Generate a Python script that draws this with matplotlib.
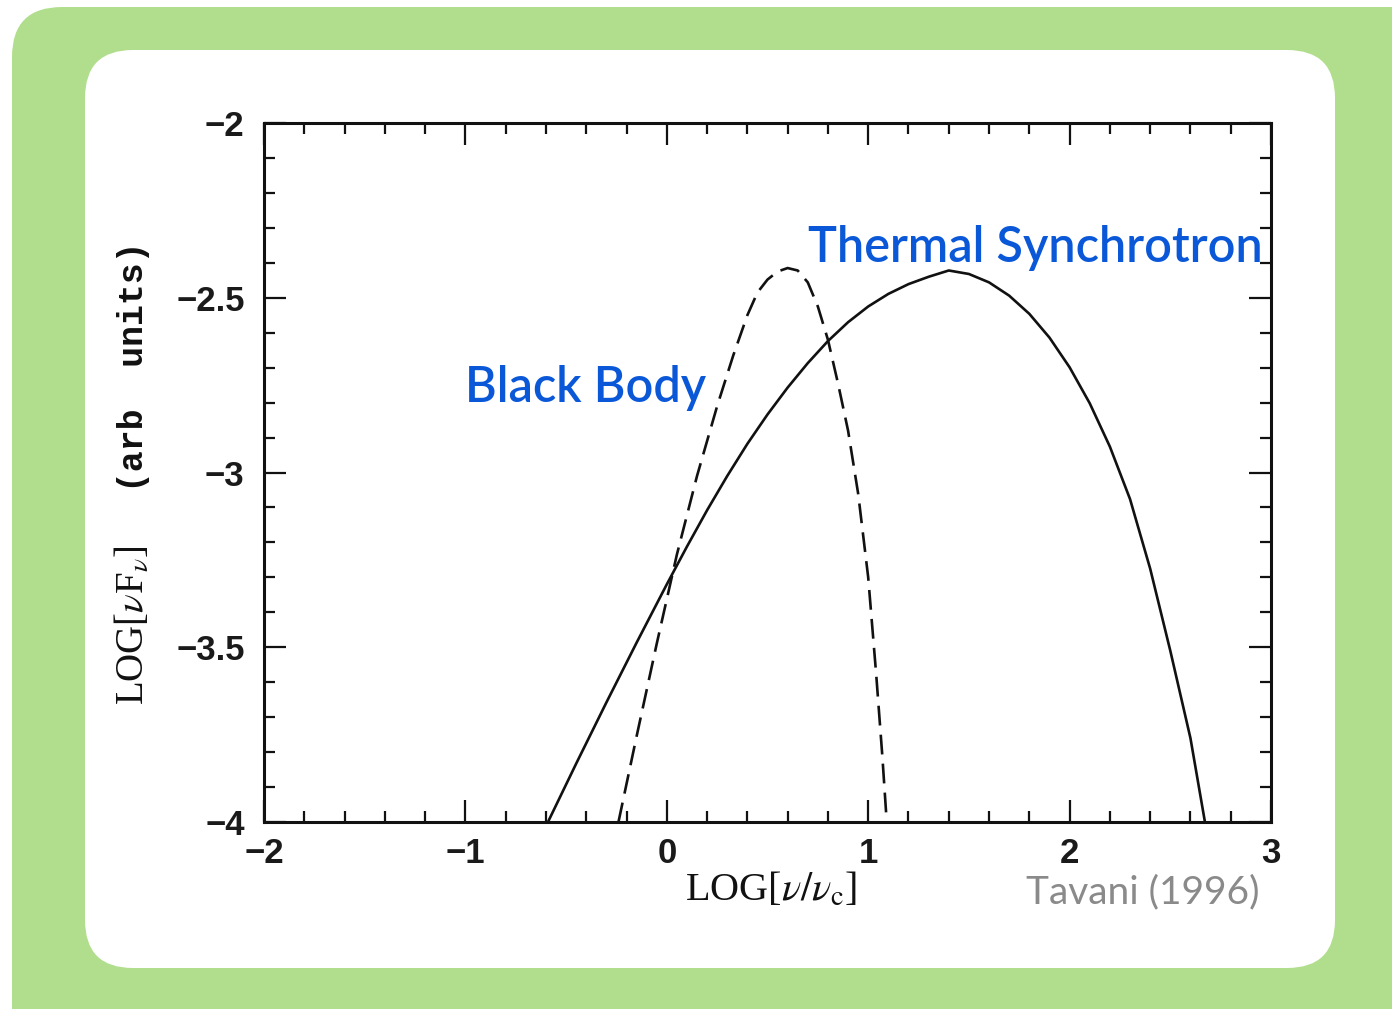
import matplotlib.pyplot as plt
from matplotlib.patches import FancyBboxPatch
from matplotlib.ticker import MultipleLocator

# values (Tavani 1996)
synch_x = [-0.59, -0.45, -0.30, -0.15, 0.0, 0.10, 0.20, 0.30, 0.40, 0.50, 0.60, 0.70,
           0.80, 0.90, 1.00, 1.10, 1.20, 1.30, 1.40, 1.50, 1.60, 1.70, 1.80, 1.90,
           2.00, 2.10, 2.20, 2.30, 2.40, 2.50, 2.60, 2.672]
synch_y = [-4.0, -3.833, -3.658, -3.487, -3.320, -3.212, -3.108, -3.010, -2.918, -2.834,
           -2.757, -2.687, -2.624, -2.570, -2.525, -2.489, -2.461, -2.440, -2.422, -2.432,
           -2.456, -2.494, -2.546, -2.614, -2.699, -2.802, -2.926, -3.076, -3.275, -3.510,
           -3.760, -4.0]

bb_x = [-0.24, -0.15, -0.05, 0.05, 0.15, 0.25, 0.33, 0.40, 0.45, 0.50, 0.55, 0.60,
        0.65, 0.70, 0.75, 0.80, 0.85, 0.90, 0.95, 1.00, 1.04, 1.07, 1.092]
bb_y = [-4.0, -3.755, -3.49, -3.235, -3.01, -2.81, -2.665, -2.55, -2.485, -2.448,
        -2.425, -2.415, -2.422, -2.456, -2.525, -2.62, -2.745, -2.88, -3.06, -3.30,
        -3.58, -3.81, -4.0]

xticks = [-2, -1, 0, 1, 2, 3]
xtick_labels = ["\u22122", "\u22121", "0", "1", "2", "3"]
yticks = [-4, -3.5, -3, -2.5, -2]
ytick_labels = ["\u22124", "\u22123.5", "\u22123", "\u22122.5", "\u22122"]

W, H = 1392, 1009
fig = plt.figure(figsize=(W / 100, H / 100), dpi=100)
fig.patch.set_facecolor("white")
plt.rcParams["mathtext.fontset"] = "stix"

# background panels
bg = fig.add_axes([0, 0, 1, 1], zorder=0)
bg.set_xlim(0, W)
bg.set_ylim(H, 0)
bg.axis("off")
bg.add_patch(FancyBboxPatch((12, 7), W + 100, H + 100,
                            boxstyle="round,pad=0,rounding_size=50",
                            fc="#b1de8c", ec="none"))
bg.add_patch(FancyBboxPatch((85, 50), 1250, 918,
                            boxstyle="round,pad=0,rounding_size=48",
                            fc="white", ec="none"))

ax = fig.add_axes([264 / W, 1 - 822 / H, (1271 - 264) / W, (822 - 123) / H], zorder=1)
ax.patch.set_alpha(0)
ax.plot(synch_x, synch_y, color="#111111", lw=1.9, solid_joinstyle="round")
ax.plot(bb_x, bb_y, color="#111111", lw=1.9, linestyle=(0, (7.5, 3.5)))

ax.set_xlim(-2, 3)
ax.set_ylim(-4, -2)
ax.set_xticks(xticks)
ax.set_xticklabels(xtick_labels)
ax.set_yticks(yticks)
ax.set_yticklabels(ytick_labels)
ax.xaxis.set_minor_locator(MultipleLocator(0.2))
ax.yaxis.set_minor_locator(MultipleLocator(0.1))
ax.tick_params(which="both", direction="in", top=True, right=True,
               width=1.6, color="#111111")
ax.tick_params(which="major", length=16)
ax.tick_params(which="minor", length=8)
ax.tick_params(axis="x", which="major", pad=11)
ax.tick_params(axis="y", which="major", pad=14)
for lab in ax.get_xticklabels() + ax.get_yticklabels():
    lab.set_family("Liberation Sans")
    lab.set_fontsize(25)
    lab.set_weight("bold")
    lab.set_color("#1a1a1a")
for s in ax.spines.values():
    s.set_linewidth(2.2)
    s.set_color("#111111")

# axis titles
fig.text(133 / W, 1 - 625 / H, r"LOG[$\nu$F$_\nu$]", rotation=90,
         ha="center", va="center", fontsize=28, family="Liberation Serif",
         color="#111111")
fig.text(133 / W, 1 - 367 / H, "(arb  units)", rotation=90,
         ha="center", va="center", fontsize=25, family="Liberation Mono",
         weight="bold", color="#111111")
fig.text(771 / W, 1 - 890 / H, r"LOG[$\nu/\nu_{\rm c}$]", ha="center", va="center",
         fontsize=29, family="Liberation Serif", color="#111111")

blue = "#0a58d8"
ax.text(0.7, -2.398, "Thermal Synchrotron", color=blue, fontsize=35,
        family="Lato", weight="semibold", ha="left", va="baseline")
ax.text(-1.0, -2.798, "Black Body", color=blue, fontsize=35,
        family="Lato", weight="semibold", ha="left", va="baseline")
fig.text(1260 / W, 1 - 903 / H, "Tavani (1996)", color="#8a8a8a", fontsize=28,
         family="Lato", ha="right", va="baseline")

fig.savefig("out.png", dpi=100)
